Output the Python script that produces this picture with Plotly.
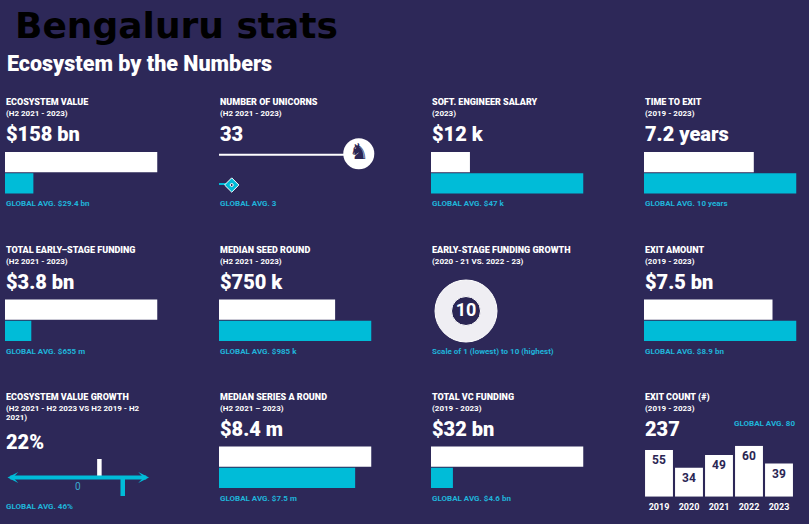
import plotly.graph_objects as go

W, H = 809, 524
BG = "#2d2858"
CYAN = "#00bcd8"
CYAN_TEXT = "#1fb4da"
NAVY = "#2b2654"
FONT = "Roboto"

# ---- data ----
bar_titles = ["ECOSYSTEM VALUE", "SOFT. ENGINEER SALARY", "TIME TO EXIT",
              "TOTAL EARLY\u2013STAGE FUNDING", "MEDIAN SEED ROUND", "EXIT AMOUNT",
              "MEDIAN SERIES A ROUND", "TOTAL VC FUNDING"]
bar_periods = ["(H2 2021 - 2023)", "(2023)", "(2019 - 2023)",
               "(H2 2021 - 2023)", "(H2 2021 - 2023)", "(2019 - 2023)",
               "(H2 2021 \u2013 2023)", "(2019 - 2023)"]
bar_headlines = ["$158 bn", "$12 k", "7.2 years", "$3.8 bn", "$750 k", "$7.5 bn", "$8.4 m", "$32 bn"]
bar_city = [158, 12, 7.2, 3.8, 750, 7.5, 8.4, 32]
bar_global = [29.4, 47, 10, 0.655, 985, 8.9, 7.5, 4.6]
bar_global_labels = ["GLOBAL AVG. $29.4 bn", "GLOBAL AVG. $47 k", "GLOBAL AVG. 10 years",
                     "GLOBAL AVG. $655 m", "GLOBAL AVG. $985 k", "GLOBAL AVG. $8.9 bn",
                     "GLOBAL AVG. $7.5 m", "GLOBAL AVG. $4.6 bn"]

unicorns_city = 33
unicorns_global = 3

growth_city = 22
growth_global = 46

funding_growth_score = 10

exit_years = ["2019", "2020", "2021", "2022", "2023"]
exit_counts = [55, 34, 49, 60, 39]
exit_total = 237
exit_global_avg = 80

# ---- layout grid (pixels) ----
COL_X = [5, 219, 431, 644]
ROW_Y = [102.5, 250, 397]
PANEL_W = 152.5
bar_slots = [(0, 0), (2, 0), (3, 0), (0, 1), (1, 1), (3, 1), (1, 2), (2, 2)]


def px(x):
    return x / W


def py(y):
    return 1 - y / H


fig = go.Figure()
annotations = []
axes = {}
n_axes = [0]


def new_axes(x0, x1, y_top, y_bot):
    n_axes[0] += 1
    s = "" if n_axes[0] == 1 else str(n_axes[0])
    axes["xaxis" + s] = dict(domain=[px(x0), px(x1)], anchor="y" + s, visible=False, fixedrange=True)
    axes["yaxis" + s] = dict(domain=[py(y_bot), py(y_top)], anchor="x" + s, visible=False, fixedrange=True)
    return "x" + s, "y" + s, axes["xaxis" + s], axes["yaxis" + s]


def label(x, y, text, size, color="white", xanchor="left", family=FONT, weight=900):
    annotations.append(dict(x=px(x), y=py(y), xref="paper", yref="paper", text=text,
                            showarrow=False, xanchor=xanchor, yanchor="middle",
                            xshift=-1 if xanchor == "left" else 1,
                            font=dict(family=family, size=size, color=color, weight=weight)))


def header(x, r, title, periods, headline, headline_dy=32):
    label(x, r, title, 9)
    for k, p in enumerate(periods):
        label(x, r + 11.5 + k * 8.5, p, 8, weight=700)
    label(x, r + headline_dy, headline, 20)


# titles
label(14, 25, "Bengaluru stats", 36, color="black", family="DejaVu Sans", weight=700)
label(6, 64, "Ecosystem by the Numbers", 21.5)

# ---- horizontal bar panels ----
for i, (col, row) in enumerate(bar_slots):
    x0, r = COL_X[col], ROW_Y[row]
    header(x0, r, bar_titles[i], [bar_periods[i]], bar_headlines[i])
    xa, ya, xd, yd = new_axes(x0, x0 + PANEL_W, r + 49, r + 91.5)
    fig.add_trace(go.Bar(y=["city", "global"], x=[bar_city[i], bar_global[i]], orientation="h",
                         width=0.95, marker=dict(color=["white", CYAN], line_width=0),
                         xaxis=xa, yaxis=ya, hoverinfo="skip"))
    xd["range"] = [0, max(bar_city[i], bar_global[i])]
    yd.update(type="category", categoryarray=["city", "global"], autorange="reversed")
    label(x0, r + 101, bar_global_labels[i], 8, color=CYAN_TEXT, weight=700)

# ---- number of unicorns ----
x0, r = COL_X[1], ROW_Y[0]
header(x0, r, "NUMBER OF UNICORNS", ["(H2 2021 - 2023)"], str(unicorns_city))
xa, ya, xd, yd = new_axes(x0, x0 + PANEL_W, 153.7, 185)
xd["range"] = [0, 36]
yd.update(type="category", categoryarray=["global", "city"], range=[0, 1])
fig.add_trace(go.Scatter(x=[0, unicorns_city], y=["city", "city"], mode="lines",
                         line=dict(color="white", width=4), xaxis=xa, yaxis=ya,
                         hoverinfo="skip", cliponaxis=False))
fig.add_trace(go.Scatter(x=[unicorns_city], y=["city"], mode="markers+text", text=["\u265e"],
                         textposition="middle center",
                         textfont=dict(family="DejaVu Sans", size=22, color=NAVY),
                         marker=dict(size=31, color="white", opacity=1), xaxis=xa, yaxis=ya,
                         hoverinfo="skip", cliponaxis=False))
fig.add_trace(go.Scatter(x=[0, unicorns_global], y=["global", "global"], mode="lines",
                         line=dict(color=CYAN, width=4), xaxis=xa, yaxis=ya,
                         hoverinfo="skip", cliponaxis=False))
fig.add_trace(go.Scatter(x=[unicorns_global, unicorns_global], y=["global", "global"], mode="markers",
                         marker=dict(size=[11, 3], color=[CYAN, NAVY], symbol=["diamond", "circle"],
                                     opacity=1),
                         xaxis=xa, yaxis=ya, hoverinfo="skip", cliponaxis=False))
label(x0, r + 101, "GLOBAL AVG. %d" % unicorns_global, 8, color=CYAN_TEXT, weight=700)

# ---- early-stage funding growth score ----
x0, r = COL_X[2], ROW_Y[1]
label(x0, r, "EARLY-STAGE FUNDING GROWTH", 9)
label(x0, r + 11.5, "(2020 - 21 VS. 2022 - 23)", 8, weight=700)
xa, ya, xd, yd = new_axes(435, 497, 280, 342)
xd["range"] = [-1, 1]
yd["range"] = [-1, 1]
fig.add_trace(go.Scatter(x=[0, 0], y=[0, 0], mode="markers",
                         marker=dict(size=[62, 29], color=["#efeef3", NAVY], opacity=1),
                         xaxis=xa, yaxis=ya, hoverinfo="skip", cliponaxis=False))
fig.add_trace(go.Scatter(x=[0], y=[0], mode="text", text=[str(funding_growth_score)],
                         textfont=dict(family=FONT, size=18, color="white", weight=700),
                         xaxis=xa, yaxis=ya, hoverinfo="skip", cliponaxis=False))
label(x0, r + 101, "Scale of 1 (lowest) to 10 (highest)", 8, color=CYAN_TEXT, weight=700)

# ---- ecosystem value growth (number line) ----
x0, r = COL_X[0], ROW_Y[2]
header(x0, r, "ECOSYSTEM VALUE GROWTH", ["(H2 2021 - H2 2023 VS H2 2019 - H2", "2021)"],
       "%d%%" % growth_city, headline_dy=44.7)
xa, ya, xd, yd = new_axes(6, 149, 459, 496)
xd["range"] = [-74, 73]
yd["range"] = [-1, 1]
fig.add_trace(go.Scatter(x=[growth_city, growth_city], y=[0, 1], mode="lines",
                         line=dict(color="white", width=4.5), xaxis=xa, yaxis=ya, hoverinfo="skip"))
fig.add_trace(go.Scatter(x=[growth_global, growth_global], y=[0, -1], mode="lines",
                         line=dict(color=CYAN, width=4.5), xaxis=xa, yaxis=ya, hoverinfo="skip"))
annotations.append(dict(x=xd["range"][1], y=0, ax=xd["range"][0], ay=0, xref=xa, yref=ya,
                        axref=xa, ayref=ya, text="", showarrow=True, arrowside="end+start",
                        arrowhead=3, startarrowhead=3, arrowwidth=4, arrowsize=0.45,
                        startarrowsize=0.45, arrowcolor=CYAN, standoff=0, startstandoff=0))
annotations.append(dict(x=0, y=py(486.7), xref=xa, yref="paper", text="0", showarrow=False,
                        yanchor="middle", font=dict(family=FONT, size=10, color="#3aa9cf")))
label(x0, r + 109.5, "GLOBAL AVG. %d%%" % growth_global, 8, color=CYAN_TEXT, weight=700)

# ---- exit count ----
x0, r = COL_X[3], ROW_Y[2]
header(x0, r, "EXIT COUNT (#)", ["(2019 - 2023)"], str(exit_total))
label(796, 423, "GLOBAL AVG. %d" % exit_global_avg, 8, color=CYAN_TEXT, xanchor="right", weight=700)
xa, ya, xd, yd = new_axes(644, 794, 445.7, 496.7)
fig.add_trace(go.Bar(x=exit_years, y=exit_counts, text=exit_counts, textposition="inside",
                     insidetextanchor="end", textangle=0, constraintext="none",
                     textfont=dict(family=FONT, size=12, color=NAVY, weight="bold"),
                     marker=dict(color="white", line_width=0), xaxis=xa, yaxis=ya, hoverinfo="skip"))
xd.update(visible=True, type="category", showline=False, showgrid=False, zeroline=False,
          ticks="", ticklabelstandoff=3,
          tickfont=dict(family=FONT, size=9, color="white", weight="bold"))
yd["range"] = [0, max(exit_counts)]

fig.update_layout(
    width=W, height=H,
    margin=dict(l=0, r=0, t=0, b=0, pad=0),
    paper_bgcolor=BG, plot_bgcolor="rgba(0,0,0,0)",
    showlegend=False, bargap=0.07,
    annotations=annotations,
    **axes
)

fig.write_html("out.html", config={"displayModeBar": False},
               post_script="document.body.style.margin='0';")
